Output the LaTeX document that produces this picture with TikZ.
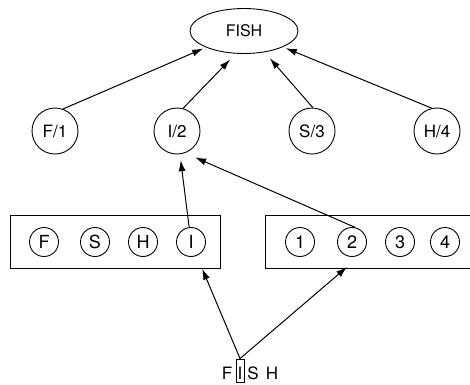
\documentclass[tikz,border=0pt]{standalone}
\usepackage{fontspec}
\setmainfont{TeX Gyre Heros}
\usetikzlibrary{arrows.meta,shapes.geometric}

\begin{document}
\begin{tikzpicture}[x=1pt,y=-1pt,
  word/.style={draw,ellipse,minimum width=108pt,minimum height=45pt,inner sep=0pt,line width=0.9pt,font=\fontsize{16}{16}\selectfont},
  pair/.style={draw,circle,minimum size=46pt,inner sep=0pt,line width=0.9pt,font=\fontsize{17}{17}\selectfont},
  unit/.style={draw,circle,minimum size=29pt,inner sep=0pt,line width=0.9pt,font=\fontsize{18}{18}\selectfont},
  group/.style={draw,minimum height=53pt,inner sep=0pt,line width=0.9pt},
  letter/.style={anchor=base,inner sep=0pt,font=\fontsize{17}{17}\selectfont},
  link/.style={-{Latex[length=11pt,width=7pt]},line width=1pt}]
\clip (0,0) rectangle (470,384);

% word node
\node[word](fish) at (244,31){FISH};

% letter/position nodes
\node[pair](t1) at (55,131){F/1};
\node[pair](t2) at (177,131){I/2};
\node[pair](t3) at (312,131){S/3};
\node[pair](t4) at (437,131){H/4};

% letter group and position group
\node[group,minimum width=210pt](lbox) at (115,241.5){};
\node[group,minimum width=215pt](rbox) at (372.5,241.5){};

\node[unit](cF) at (44,242){F};
\node[unit](cS) at (95,242){S};
\node[unit](cH) at (143,242){H};
\node[unit](cI) at (191,242){I};

\node[unit](c1) at (300,242){1};
\node[unit](c2) at (352,242){2};
\node[unit](c3) at (400,242){3};
\node[unit](c4) at (445,242){4};

% input string, the fixated letter boxed
\node[letter](bF) at (227,379){F};
\node[draw,inner sep=0pt,minimum width=8pt,text height=20pt,text depth=3pt,line width=0.9pt,font=\fontsize{17}{17}\selectfont](bI) at (240,370.5){I};
\node[letter](bS) at (253,379){S};
\node[letter](bH) at (272,379){H};
\coordinate (in2) at (347,267);

% connections
\draw[link,shorten >=14pt] (bI.north) -- (cI);
\draw[link] (bI.north) -- (in2);
\draw[link,shorten >=6pt] (cI) -- (t2);
\draw[link,shorten >=11pt] (c2.78) -- (t2.-70);
\draw[link,shorten >=3pt] (t1.70) -- (fish);
\draw[link,shorten >=8pt] (t2.75) -- (fish.-110);
\draw[link,shorten >=8pt] (t3.88) -- (fish.-46);
\draw[link,shorten >=3pt] (t4.103) -- (fish);
\end{tikzpicture}
\end{document}
